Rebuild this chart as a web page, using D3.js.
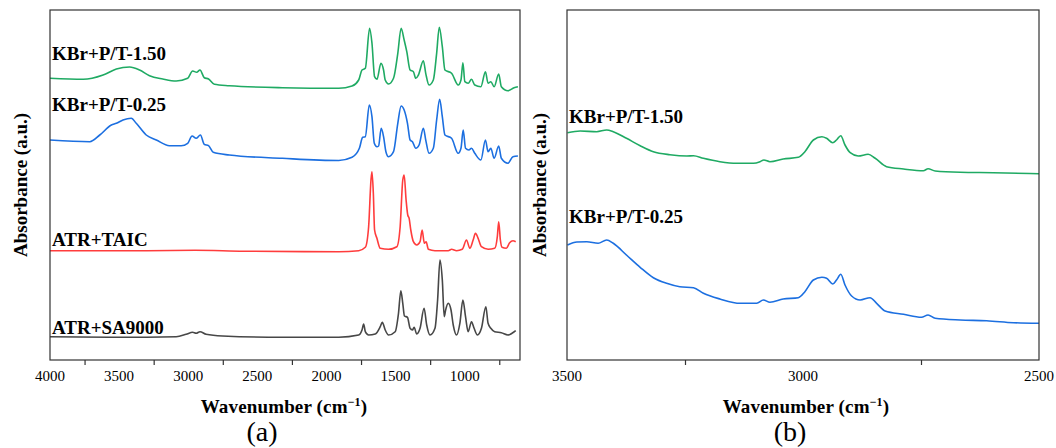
<!DOCTYPE html>
<html>
<head>
<meta charset="utf-8">
<script src="https://cdn.jsdelivr.net/npm/d3@7"></script>
<style>
  body { margin: 0; background: #fff; }
  svg text { font-family: "Liberation Serif", serif; }
</style>
</head>
<body>
<div id="plot"></div>
<script>
// ---- data: [wavenumber (cm-1), absorbance (a.u., offset for stacking)] ----
const kbr150Full = [
  [4000, 28.17], [3760, 28.07], [3616, 28.5], [3520, 29.1], [3424, 29.3], [3352, 29.0],
  [3280, 28.43], [3184, 28.1], [3087, 27.9], [3004, 28.17], [2968, 28.9], [2939, 28.77],
  [2915, 29.0], [2884, 28.23], [2853, 28.1], [2811, 27.57], [2703, 27.43], [2319, 27.23],
  [1911, 27.17], [1815, 27.4], [1767, 28.0], [1743, 29.0], [1719, 29.17], [1688, 33.17],
  [1671, 31.7], [1652, 28.33], [1635, 28.07], [1606, 29.67], [1587, 29.0], [1575, 28.0],
  [1551, 27.6], [1515, 28.17], [1484, 30.67], [1460, 33.17], [1438, 32.0], [1419, 30.83],
  [1395, 29.0], [1371, 28.83], [1354, 28.17], [1335, 28.5], [1299, 29.93], [1282, 28.67],
  [1258, 27.5], [1227, 28.0], [1203, 30.67], [1184, 33.27], [1162, 31.33], [1143, 29.0],
  [1095, 28.67], [1047, 27.5], [1027, 28.0], [1013, 29.73], [999, 27.83], [975, 27.67],
  [951, 28.07], [927, 27.5], [883, 27.33], [850, 28.83], [831, 27.67], [811, 27.83],
  [787, 27.33], [754, 28.6], [735, 27.33], [687, 26.93], [643, 27.23], [615, 27.33]
];
const kbr025Full = [
  [4000, 22.0], [3712, 21.83], [3640, 22.5], [3556, 23.5], [3520, 23.67], [3472, 24.0],
  [3412, 24.17], [3376, 23.67], [3304, 22.5], [3231, 22.0], [3136, 21.43], [3051, 21.43],
  [3004, 21.67], [2972, 22.4], [2943, 22.17], [2912, 22.5], [2884, 21.57], [2853, 21.43],
  [2819, 20.77], [2703, 20.5], [2319, 20.17], [1911, 19.95], [1815, 20.27], [1762, 21.17],
  [1738, 22.27], [1719, 22.33], [1690, 25.5], [1671, 24.33], [1654, 21.67], [1635, 21.33],
  [1623, 21.4], [1604, 23.17], [1587, 22.33], [1570, 20.83], [1551, 20.33], [1515, 20.83],
  [1484, 23.67], [1460, 25.4], [1438, 25.0], [1414, 23.67], [1395, 22.0], [1378, 21.83],
  [1354, 21.17], [1330, 21.5], [1299, 23.17], [1282, 22.0], [1258, 20.67], [1227, 21.17],
  [1203, 24.0], [1181, 26.07], [1162, 24.33], [1143, 22.5], [1095, 22.17], [1047, 20.67],
  [1027, 21.17], [1011, 23.0], [994, 21.17], [970, 21.0], [951, 21.17], [927, 20.67],
  [883, 20.0], [850, 22.0], [831, 20.83], [811, 21.17], [787, 20.17], [754, 21.4],
  [735, 20.17], [687, 19.67], [651, 20.33], [615, 20.4]
];
const atrTaic = [
  [4000, 10.93], [3300, 10.93], [2950, 10.97], [2600, 10.88], [1911, 10.83], [1767, 10.93],
  [1719, 11.27], [1695, 13.33], [1678, 18.0], [1671, 18.83], [1661, 16.67], [1652, 13.0],
  [1635, 12.17], [1611, 11.17], [1551, 11.07], [1491, 11.33], [1467, 13.33], [1448, 18.0],
  [1438, 18.5], [1424, 16.0], [1412, 14.5], [1402, 14.17], [1390, 13.0], [1371, 11.83],
  [1347, 11.5], [1323, 11.83], [1308, 13.0], [1292, 11.67], [1279, 11.83], [1263, 11.07],
  [1215, 10.93], [1119, 10.93], [1095, 11.07], [1059, 10.93], [1018, 11.07], [987, 12.0],
  [963, 11.17], [939, 12.0], [922, 12.67], [903, 12.17], [879, 11.33], [831, 11.07],
  [783, 11.17], [764, 12.33], [754, 13.83], [742, 12.0], [730, 11.27], [699, 11.17],
  [675, 11.73], [651, 11.93], [631, 11.83]
];
const atrSa9000 = [
  [4000, 2.33], [3520, 2.27], [3087, 2.33], [3015, 2.57], [2968, 2.77], [2943, 2.67],
  [2915, 2.83], [2871, 2.57], [2752, 2.4], [2319, 2.27], [1911, 2.28], [1767, 2.5],
  [1743, 3.0], [1731, 3.6], [1719, 2.83], [1695, 2.5], [1647, 2.6], [1611, 3.33],
  [1596, 3.77], [1575, 3.0], [1551, 2.5], [1503, 2.83], [1479, 4.67], [1462, 6.93],
  [1448, 5.67], [1436, 4.4], [1414, 4.27], [1395, 3.17], [1378, 3.0], [1366, 3.27],
  [1347, 2.6], [1323, 3.17], [1294, 5.17], [1275, 3.5], [1251, 2.5], [1215, 3.17],
  [1196, 6.0], [1179, 10.0], [1162, 8.0], [1148, 4.33], [1138, 5.0], [1119, 5.67],
  [1099, 5.0], [1083, 3.5], [1059, 2.5], [1035, 3.67], [1013, 6.0], [994, 4.33],
  [975, 2.83], [951, 3.83], [932, 3.17], [908, 2.5], [879, 3.17], [847, 5.33],
  [831, 3.67], [811, 3.17], [783, 2.83], [735, 2.73], [687, 2.5], [658, 2.67], [631, 2.93]
];
const kbr150Zoom = [
  [3499, 22.73], [3472, 22.9], [3437, 22.83], [3416, 23.0], [3402, 22.83], [3374, 22.17],
  [3345, 21.43], [3317, 20.83], [3282, 20.53], [3246, 20.4], [3232, 20.43], [3211, 20.17],
  [3176, 19.83], [3140, 19.67], [3105, 19.67], [3091, 19.83], [3083, 20.0], [3070, 19.83],
  [3042, 20.1], [3010, 20.27], [2996, 20.83], [2978, 22.0], [2960, 22.33], [2950, 22.17],
  [2937, 21.73], [2929, 22.0], [2920, 22.43], [2911, 21.5], [2900, 20.73], [2883, 20.4],
  [2862, 20.57], [2847, 20.17], [2823, 19.33], [2787, 19.1], [2745, 18.93], [2735, 19.13],
  [2720, 18.9], [2667, 18.77], [2597, 18.73], [2500, 18.63]
];
const kbr025Zoom = [
  [3499, 11.5], [3479, 11.8], [3458, 11.83], [3434, 11.67], [3416, 12.0], [3402, 11.67],
  [3374, 10.5], [3345, 9.27], [3317, 8.23], [3289, 7.67], [3261, 7.33], [3232, 7.23],
  [3211, 6.67], [3176, 6.1], [3133, 5.67], [3098, 5.67], [3084, 6.0], [3070, 5.77],
  [3042, 6.1], [3010, 6.23], [2996, 6.83], [2978, 8.0], [2960, 8.27], [2950, 8.17],
  [2937, 7.6], [2929, 8.0], [2920, 8.57], [2911, 7.5], [2897, 6.4], [2879, 6.0],
  [2858, 6.23], [2844, 5.67], [2826, 4.9], [2787, 4.57], [2749, 4.27], [2735, 4.5],
  [2720, 4.17], [2667, 4.0], [2611, 3.93], [2554, 3.73], [2500, 3.67]
];

const labelsA = ["KBr+P/T-1.50", "KBr+P/T-0.25", "ATR+TAIC", "ATR+SA9000"];
const labelsB = ["KBr+P/T-1.50", "KBr+P/T-0.25"];
const ticksA = [4000, 3500, 3000, 2500, 2000, 1500, 1000];
const minorA = [3750, 3250, 2750, 2250, 1750, 1250, 750];
const ticksB = [3500, 3000, 2500];
const minorB = [3250, 2750];

const colors = { green: "#1faa63", blue: "#1c6fe0", red: "#ff3c3c", black: "#474747" };
const fontFam = "\"Liberation Serif\", serif";

// ---- layout ----
const w = 1056, h = 448;
const plotTop = 10, plotBottom = 360;

const svg = d3.select("#plot").append("svg")
  .attr("width", w)
  .attr("height", h);

const panels = [
  {
    left: 50, right: 520, domain: [4000, 600], ticks: ticksA, minor: minorA,
    series: [
      { data: kbr150Full, color: colors.green, label: labelsA[0], ly: 30.0 },
      { data: kbr025Full, color: colors.blue, label: labelsA[1], ly: 24.9 },
      { data: atrTaic, color: colors.red, label: labelsA[2], ly: 11.4 },
      { data: atrSa9000, color: colors.black, label: labelsA[3], ly: 2.6 }
    ],
    labelX: 52, yTitleX: 27, cap: "(a)", capX: 262, titleX: 284
  },
  {
    left: 567, right: 1039, domain: [3500, 2500], ticks: ticksB, minor: minorB,
    series: [
      { data: kbr150Zoom, color: colors.green, label: labelsB[0], ly: 23.67 },
      { data: kbr025Zoom, color: colors.blue, label: labelsB[1], ly: 13.67 }
    ],
    labelX: 569, yTitleX: 546, cap: "(b)", capX: 790, titleX: 806
  }
];

const yScale = d3.scaleLinear().domain([0, 35]).range([plotBottom, plotTop]);

panels.forEach(p => {
  const xScale = d3.scaleLinear().domain(p.domain).range([p.left, p.right]);

  const line = d3.line()
    .x(d => xScale(d[0]))
    .y(d => yScale(d[1]))
    .curve(d3.curveMonotoneX);

  // spectra
  p.series.forEach(s => {
    svg.append("path")
      .datum(s.data)
      .attr("fill", "none")
      .attr("stroke", s.color)
      .attr("stroke-width", 1.6)
      .attr("stroke-linejoin", "round")
      .attr("d", line);

    svg.append("text")
      .attr("x", p.labelX)
      .attr("y", yScale(s.ly))
      .style("font-family", fontFam)
      .style("font-size", "19px")
      .style("font-weight", "bold")
      .style("fill", "#000")
      .text(s.label);
  });

  // frame
  svg.append("rect")
    .attr("x", p.left)
    .attr("y", plotTop)
    .attr("width", p.right - p.left)
    .attr("height", plotBottom - plotTop)
    .attr("fill", "none")
    .attr("stroke", "#333")
    .attr("stroke-width", 1.2);

  // minor ticks (outward) and tick labels
  const xAxis = d3.axisBottom(xScale)
    .tickValues(p.minor)
    .tickSize(5)
    .tickFormat("");

  svg.append("g")
    .attr("transform", `translate(0, ${plotBottom})`)
    .call(xAxis)
    .call(g => g.select(".domain").remove())
    .call(g => g.selectAll("line").attr("stroke", "#333").attr("stroke-width", 1.2));

  svg.append("g")
    .selectAll("text")
    .data(p.ticks)
    .join("text")
    .attr("x", d => xScale(d))
    .attr("y", plotBottom + 21)
    .attr("text-anchor", "middle")
    .style("font-family", fontFam)
    .style("font-size", "15px")
    .style("fill", "#000")
    .text(d => d);

  // x-axis title
  const xt = svg.append("text")
    .attr("x", p.titleX)
    .attr("y", 413)
    .attr("text-anchor", "middle")
    .style("font-family", fontFam)
    .style("font-size", "19px")
    .style("font-weight", "bold")
    .style("letter-spacing", "0.15px")
    .style("fill", "#000")
    .text("Wavenumber (cm");
  xt.append("tspan")
    .attr("dy", -7)
    .style("font-size", "12px")
    .text("\u22121");
  xt.append("tspan")
    .attr("dy", 7)
    .text(")");

  // y-axis title
  svg.append("text")
    .attr("transform", `translate(${p.yTitleX}, 185) rotate(-90)`)
    .attr("text-anchor", "middle")
    .style("font-family", fontFam)
    .style("font-size", "19px")
    .style("font-weight", "bold")
    .style("fill", "#000")
    .text("Absorbance (a.u.)");

  // panel caption
  svg.append("text")
    .attr("x", p.capX)
    .attr("y", 441)
    .attr("text-anchor", "middle")
    .style("font-family", fontFam)
    .style("font-size", "28px")
    .style("fill", "#000")
    .text(p.cap);
});
</script>
</body>
</html>
